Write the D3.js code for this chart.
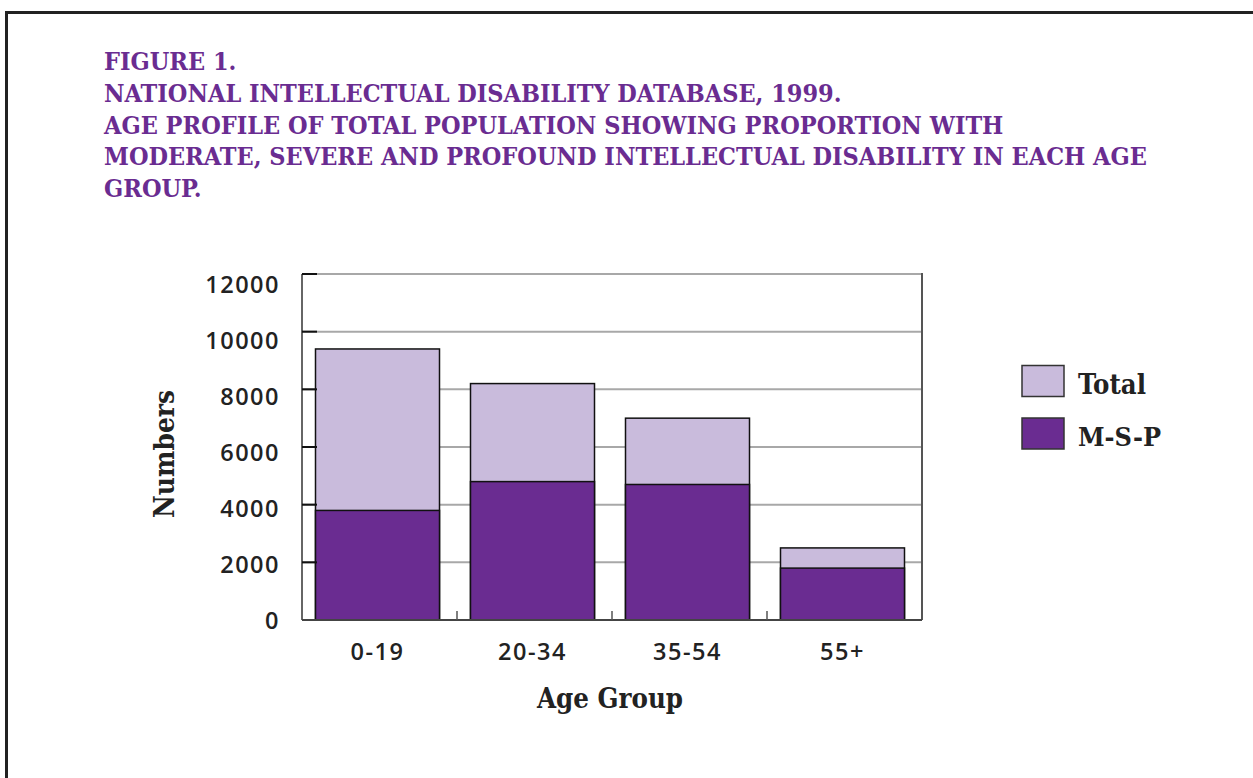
<!DOCTYPE html>
<html>
<head>
<meta charset="utf-8">
<script src="https://cdn.jsdelivr.net/npm/d3@7"></script>
<style>
  html, body { margin: 0; padding: 0; background: #fff; }
  svg { display: block; }
  .serif { font-family: 'DejaVu Serif', serif; font-weight: bold; font-stretch: condensed; }
</style>
</head>
<body>
<svg id="chart" width="1253" height="778"></svg>
<script>
// ---- data ----
const categories = ["0-19", "20-34", "35-54", "55+"];
const totalValues = [9400, 8200, 7000, 2500];
const mspValues = [3800, 4800, 4700, 1800];
const yTicks = [0, 2000, 4000, 6000, 8000, 10000, 12000];
const seriesNames = ["Total", "M-S-P"];
const titleLines = [
  "FIGURE 1.",
  "NATIONAL INTELLECTUAL DISABILITY DATABASE, 1999.",
  "AGE PROFILE OF TOTAL POPULATION SHOWING PROPORTION WITH",
  "MODERATE, SEVERE AND PROFOUND INTELLECTUAL DISABILITY IN EACH AGE",
  "GROUP."
];
const xTitle = "Age Group";
const yTitle = "Numbers";

// ---- styles ----
const purple = "#6a2c91";
const lavender = "#c9bbdc";
const sans = "'Open Sans', sans-serif";

const svg = d3.select("#chart");

function fitWidth(sel, target) {
  const node = sel.node();
  const fs = parseFloat(sel.attr("font-size"));
  const w = node.getComputedTextLength();
  sel.attr("font-size", (fs * target / w).toFixed(2));
}

// frame
svg.append("rect")
  .attr("x", 6.5).attr("y", 12.5)
  .attr("width", 1300).attr("height", 900)
  .attr("fill", "none").attr("stroke", "#222").attr("stroke-width", 3);

// title
const title = svg.append("g");
const tl = title.selectAll("text").data(titleLines).join("text")
  .attr("class", "serif")
  .attr("x", 104)
  .attr("y", (d, i) => 70 + i * 31.8)
  .attr("fill", purple)
  .attr("font-size", 20)
  .text(d => d);
{
  const ref = tl.filter((d, i) => i === 3);
  fitWidth(ref, 1043);
  tl.attr("font-size", ref.attr("font-size"));
}

// plot area
const pLeft = 302, pRight = 922, pTop = 274, pBottom = 620;
const x = d3.scaleBand().domain(categories).range([pLeft, pRight]).paddingInner(0.2).paddingOuter(0.1);
const y = d3.scaleLinear().domain([0, 12000]).range([pBottom, pTop]);
const yLab = d3.scaleLinear().domain([0, 12000]).range([pBottom + 1, pTop + 11]);

// gridlines
svg.append("g").selectAll("line").data(yTicks.filter(t => t > 0)).join("line")
  .attr("x1", pLeft).attr("x2", pRight)
  .attr("y1", d => y(d)).attr("y2", d => y(d))
  .attr("stroke", "#a8a8a8").attr("stroke-width", 2);

// right border
svg.append("line")
  .attr("x1", pRight).attr("x2", pRight).attr("y1", pTop - 1).attr("y2", pBottom)
  .attr("stroke", "#555").attr("stroke-width", 2);

// bars: Total (behind), M-S-P (front)
const bars = svg.append("g");
bars.selectAll("rect.total").data(categories).join("rect")
  .attr("class", "total")
  .attr("x", d => x(d) - 2)
  .attr("width", x.bandwidth())
  .attr("y", (d, i) => y(totalValues[i]))
  .attr("height", (d, i) => y(0) - y(totalValues[i]))
  .attr("fill", lavender).attr("stroke", "#111").attr("stroke-width", 1.5);
bars.selectAll("rect.msp").data(categories).join("rect")
  .attr("class", "msp")
  .attr("x", d => x(d) - 2)
  .attr("width", x.bandwidth())
  .attr("y", (d, i) => y(mspValues[i]))
  .attr("height", (d, i) => y(0) - y(mspValues[i]))
  .attr("fill", purple).attr("stroke", "#111").attr("stroke-width", 1.5);

// left axis line and inward ticks
svg.append("line")
  .attr("x1", pLeft).attr("x2", pLeft).attr("y1", pTop).attr("y2", pBottom)
  .attr("stroke", "#333").attr("stroke-width", 1.5);
svg.append("g").selectAll("line").data(yTicks).join("line")
  .attr("x1", pLeft).attr("x2", pLeft + 15)
  .attr("y1", d => y(d)).attr("y2", d => y(d))
  .attr("stroke", "#111").attr("stroke-width", 2);

// bottom axis
svg.append("line")
  .attr("x1", pLeft).attr("x2", pRight).attr("y1", pBottom).attr("y2", pBottom)
  .attr("stroke", "#444").attr("stroke-width", 2);
const boundaries = categories.slice(1).map(c => x(c) - x.step() * x.paddingInner() / 2);
svg.append("g").selectAll("line").data(boundaries).join("line")
  .attr("x1", d => d).attr("x2", d => d)
  .attr("y1", pBottom).attr("y2", pBottom - 9)
  .attr("stroke", "#555").attr("stroke-width", 1.5);

// y tick labels
svg.append("g").selectAll("text").data(yTicks).join("text")
  .attr("x", 280)
  .attr("y", d => yLab(d))
  .attr("dy", "0.36em")
  .attr("text-anchor", "end")
  .attr("font-family", sans).attr("font-weight", 600)
  .attr("font-size", 23.5).attr("letter-spacing", 1.5)
  .attr("fill", "#222")
  .text(d => d);

// x tick labels
svg.append("g").selectAll("text").data(categories).join("text")
  .attr("x", d => x(d) + x.bandwidth() / 2 - 2)
  .attr("y", 660)
  .attr("text-anchor", "middle")
  .attr("font-family", sans).attr("font-weight", 600)
  .attr("font-size", 23.5).attr("letter-spacing", 1.5)
  .attr("fill", "#222")
  .text(d => d);

// axis titles
const xt = svg.append("text")
  .attr("class", "serif")
  .attr("x", 610).attr("y", 708)
  .attr("text-anchor", "middle")
  .attr("font-size", 22).attr("fill", "#222")
  .text(xTitle);
fitWidth(xt, 146);

const yt = svg.append("text")
  .attr("class", "serif")
  .attr("transform", "translate(174,454) rotate(-90)")
  .attr("text-anchor", "middle")
  .attr("font-size", 22).attr("fill", "#222")
  .text(yTitle);
fitWidth(yt, 128);

// legend
const legendColors = [lavender, purple];
const lg = svg.append("g").selectAll("g").data(seriesNames).join("g")
  .attr("transform", (d, i) => `translate(1022,${365.5 + i * 52.5})`);
lg.append("rect")
  .attr("width", 42).attr("height", 31)
  .attr("fill", (d, i) => legendColors[i])
  .attr("stroke", "#333").attr("stroke-width", 1.5);
const lt = lg.append("text")
  .attr("class", "serif")
  .attr("x", 56).attr("y", 28)
  .attr("font-size", 22).attr("fill", "#222")
  .text(d => d);
fitWidth(lt.filter((d, i) => i === 0), 68);
fitWidth(lt.filter((d, i) => i === 1), 83);
</script>
</body>
</html>
